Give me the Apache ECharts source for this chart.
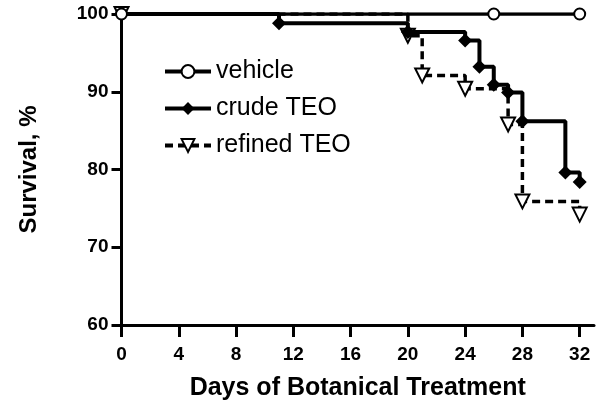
<!DOCTYPE html>
<html>
<head>
<meta charset="utf-8">
<script src="https://cdn.jsdelivr.net/npm/echarts@6/dist/echarts.min.js"></script>
<style>html,body{margin:0;padding:0;background:#fff}#c{width:600px;height:406px}</style>
</head>
<body>
<div id="c"></div>
<script>
const xTicks = [0, 4, 8, 12, 16, 20, 24, 28, 32];
const vehicle = [[0, 100], [26, 100], [32, 100]];
const crudeTEO = [[0, 100], [11, 98.8], [20, 97.7], [24, 96.6], [25, 93.2], [26, 90.9], [27, 89.9], [28, 86.2], [31, 79.6], [32, 78.4]];
const refinedTEO = [[0, 100], [20, 97.2], [21, 92.1], [24, 90.4], [27, 85.8], [28, 75.9], [32, 74.2]];

const FONT = '"Liberation Sans", Arial, sans-serif';
const chart = echarts.init(document.getElementById('c'));
chart.setOption({
  animation: false,
  backgroundColor: '#fff',
  grid: { left: 121.5, top: 14, right: 6, bottom: 81, containLabel: false },
  legend: {
    orient: 'vertical', left: 163, top: 59, itemWidth: 46, itemHeight: 16, itemGap: 12,
    padding: 0,
    lineStyle: { width: 4 },
    textStyle: { fontSize: 25, color: '#000', fontFamily: FONT },
    data: ['vehicle', 'crude TEO', 'refined TEO']
  },
  xAxis: {
    type: 'value', min: 0, max: 33,
    name: 'Days of Botanical Treatment', nameLocation: 'middle', nameGap: 51,
    nameTextStyle: { fontSize: 25, fontWeight: 'bold', color: '#000', fontFamily: FONT },
    axisLine: { lineStyle: { color: '#000', width: 3 } },
    axisTick: { length: 12, lineStyle: { color: '#000', width: 3 }, customValues: xTicks },
    axisLabel: { fontSize: 19, fontWeight: 'bold', color: '#000', fontFamily: FONT, margin: 20, customValues: xTicks },
    splitLine: { show: false }
  },
  yAxis: {
    type: 'value', min: 60, max: 100, interval: 10,
    name: 'Survival, %', nameLocation: 'middle', nameGap: 80,
    nameTextStyle: { fontSize: 24, fontWeight: 'bold', color: '#000', fontFamily: FONT },
    axisLine: { show: true, lineStyle: { color: '#000', width: 3 } },
    axisTick: { show: true, length: 10, lineStyle: { color: '#000', width: 3 } },
    axisLabel: { fontSize: 19, fontWeight: 'bold', color: '#000', fontFamily: FONT, margin: 13 },
    splitLine: { show: false }
  },
  series: [
    {
      name: 'vehicle', type: 'line', step: 'end', data: vehicle, z: 4,
      symbol: 'emptyCircle', symbolSize: 11,
      itemStyle: { color: '#000', borderWidth: 2 },
      lineStyle: { color: '#000', width: 3.5 }
    },
    {
      name: 'crude TEO', type: 'line', step: 'end', data: crudeTEO, z: 3,
      symbol: 'diamond', symbolSize: 14,
      itemStyle: { color: '#000' },
      lineStyle: { color: '#000', width: 4 }
    },
    {
      name: 'refined TEO', type: 'line', step: 'end', data: refinedTEO, z: 2,
      symbol: 'emptyTriangle', symbolSize: 14, symbolRotate: 180,
      itemStyle: { color: '#000', borderWidth: 2.5 },
      lineStyle: { color: '#000', width: 3.5, type: [8, 5] }
    }
  ]
});
</script>
</body>
</html>
